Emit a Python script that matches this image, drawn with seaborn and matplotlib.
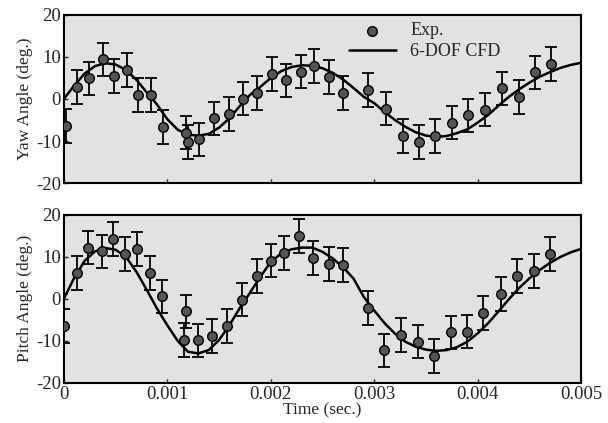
import numpy as np
import pandas as pd
import seaborn as sns
import matplotlib.pyplot as plt

yaw_t = [0.00002, 0.000132, 0.000245, 0.000374, 0.000487, 0.000606, 0.000719, 0.000841,
         0.000954, 0.001177, 0.001196, 0.001309, 0.001454, 0.001596, 0.001734, 0.00187,
         0.002012, 0.002144, 0.002289, 0.00242, 0.002566, 0.002702, 0.002944, 0.003114,
         0.003276, 0.003433, 0.003588, 0.003749, 0.00391, 0.004072, 0.004233, 0.004394,
         0.004555, 0.004707]
yaw_exp = [-6.4, 2.8, 4.9, 9.4, 5.5, 6.9, 1.0, 1.0,
           -6.7, -8.0, -10.2, -9.6, -4.6, -3.6, 0.1, 1.4,
           6.0, 4.4, 6.5, 7.9, 5.3, 1.4, 2.1, -2.3,
           -8.8, -10.2, -8.8, -5.6, -3.9, -2.5, 2.5, 0.4,
           6.3, 8.3]
yaw_err = [4.0] * len(yaw_exp)

pitch_t = [0.000003, 0.000123, 0.000235, 0.000364, 0.000477, 0.00059, 0.000703, 0.000832,
           0.000951, 0.00118, 0.001164, 0.001293, 0.001434, 0.001574, 0.001724, 0.001864,
           0.001999, 0.002128, 0.002273, 0.002405, 0.002566, 0.002695, 0.002937, 0.003098,
           0.003259, 0.00342, 0.003581, 0.00374, 0.0039, 0.004055, 0.004226, 0.004378,
           0.004539, 0.004694]
pitch_exp = [-6.4, 6.1, 12.2, 11.3, 14.2, 10.7, 11.9, 6.1,
             0.6, -3.0, -9.8, -9.9, -8.8, -6.4, -0.2, 5.5,
             9.1, 10.9, 15.0, 9.7, 8.3, 8.1, -2.2, -12.3,
             -8.6, -10.2, -13.6, -8.0, -7.8, -3.4, 1.1, 5.5,
             6.7, 10.7]
pitch_err = [4.0] * len(pitch_exp)

# 6-DOF CFD curves, sampled every 0.0001 s
cfd_t = [i / 10000 for i in range(51)]
yaw_cfd = [0.0, 3.2, 6.0, 7.8, 8.5, 8.2, 6.9, 4.6, 1.6, -1.3,
           -4.8, -7.3, -8.5, -8.7, -8.3, -6.8, -4.6, -1.7, 1.0, 2.9,
           5.0, 6.6, 7.6, 8.0, 7.9, 7.3, 6.2, 4.6, 2.6, 0.5,
           -1.0, -3.1, -5.0, -6.6, -7.9, -8.7, -9.0, -8.8, -8.1, -7.2,
           -5.6, -3.8, -1.6, 0.5, 2.3, 3.9, 5.3, 6.4, 7.4, 8.1,
           8.6]
pitch_cfd = [0.0, 5.0, 9.0, 11.3, 12.1, 11.7, 10.0, 6.5, 2.2, -2.3,
             -6.3, -10.0, -12.6, -13.0, -12.2, -9.8, -6.3, -2.2, 1.5, 5.3,
             8.8, 10.8, 11.8, 12.2, 12.2, 11.2, 9.6, 7.5, 4.8, 0.4,
             -2.8, -5.8, -8.3, -10.2, -11.4, -12.1, -12.4, -12.2, -11.5, -10.2,
             -8.2, -5.8, -3.0, -0.1, 2.6, 4.9, 6.9, 8.6, 10.0, 11.1,
             11.9]

yticks = [-20, -10, 0, 10, 20]
xticks = [0, 0.001, 0.002, 0.003, 0.004, 0.005]
xticklabels = ['0', '0.001', '0.002', '0.003', '0.004', '0.005']

sns.set_style("ticks")
plt.rcParams['font.family'] = ['Liberation Serif', 'DejaVu Serif']
plt.rcParams['font.size'] = 12.5
plt.rcParams['axes.unicode_minus'] = False

fig = plt.figure(figsize=(6.08, 4.23), dpi=100)
ax1 = fig.add_axes([0.105, 0.567, 0.851, 0.398])
ax2 = fig.add_axes([0.105, 0.095, 0.851, 0.397])

panels = [
    (ax1, yaw_t, yaw_exp, yaw_err, yaw_cfd, 'Yaw Angle (deg.)'),
    (ax2, pitch_t, pitch_exp, pitch_err, pitch_cfd, 'Pitch Angle (deg.)'),
]

for ax, t, exp, err, cfd, lab in panels:
    ax.set_facecolor('#e2e2e2')
    sns.lineplot(x=cfd_t, y=cfd, ax=ax, color='black', lw=1.8, label='6-DOF CFD')
    ax.errorbar(t, exp, yerr=err, fmt='none', ecolor='black', elinewidth=1.3,
                capsize=4, capthick=1.3, zorder=3)
    sns.scatterplot(x=t, y=exp, ax=ax, color='#555555', edgecolor='black',
                    linewidth=1.0, s=48, zorder=4, label='Exp.')
    ax.set_xlim(0, 0.005)
    ax.set_ylim(-20, 20)
    ax.set_yticks(yticks)
    ax.set_ylabel(lab, fontsize=12.5, labelpad=2)
    ax.tick_params(direction='in', length=3, width=1, pad=2, labelsize=13.5)
    for sp in ax.spines.values():
        sp.set_linewidth(1.5)
        sp.set_color('black')

ax1.set_xticks(xticks)
ax1.set_xticklabels([])
ax1.set_xlabel('')
ax2.set_xticks(xticks)
ax2.set_xticklabels(xticklabels)
ax2.set_xlabel('Time (sec.)', fontsize=12.5, labelpad=0)

# legend only on the top panel, markers first
h, l = ax1.get_legend_handles_labels()
order = [l.index('Exp.'), l.index('6-DOF CFD')]
ax1.legend([h[i] for i in order], [l[i] for i in order], loc='upper left',
           bbox_to_anchor=(0.53, 1.02), frameon=False, fontsize=13,
           handlelength=2.6, borderaxespad=0.2, labelspacing=0.2)
ax2.get_legend().remove()

fig.savefig('out.png', dpi=100)
